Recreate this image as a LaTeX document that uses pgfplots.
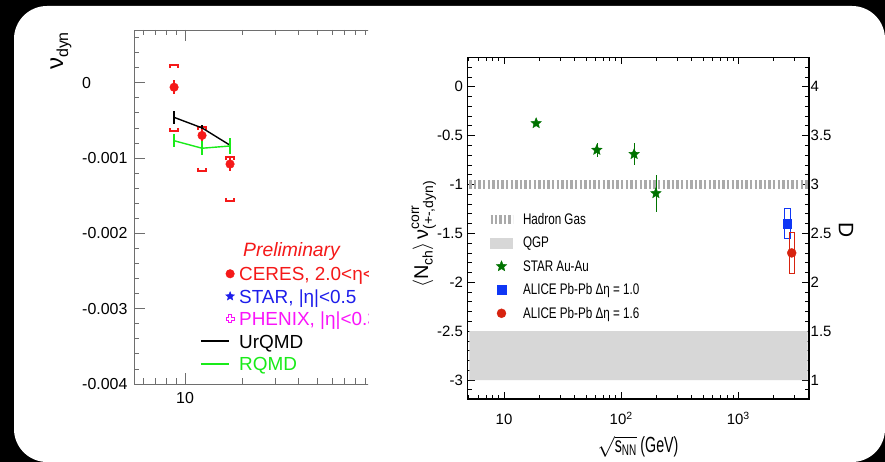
\documentclass[border=0pt]{standalone}
\usepackage{fontspec}
\setmainfont{Liberation Sans}
\newfontfamily\narrowfont[FakeStretch=0.76]{Liberation Sans}
\newfontfamily\labelfont[FakeStretch=0.65]{Liberation Sans}
\usepackage{amsmath}
\usepackage{graphicx}
\usepackage{pgfplots}
\pgfplotsset{compat=1.18}

\definecolor{ceresred}{RGB}{245,25,25}
\definecolor{starblue}{RGB}{30,30,235}
\definecolor{phenixmag}{RGB}{250,20,250}
\definecolor{rqmdgreen}{RGB}{25,235,25}
\definecolor{stargreen}{RGB}{0,115,0}
\definecolor{alblue}{RGB}{15,55,245}
\definecolor{alred}{RGB}{215,35,15}
\definecolor{hggray}{RGB}{170,170,170}
\definecolor{qgpgray}{RGB}{215,215,215}
\definecolor{framegray}{RGB}{110,110,110}

% filled five-pointed star
\pgfdeclareplotmark{fstar}{%
  \pgfpathmoveto{\pgfpoint{0pt}{\pgfplotmarksize}}%
  \pgfpathlineto{\pgfpoint{-0.265\pgfplotmarksize}{0.364\pgfplotmarksize}}%
  \pgfpathlineto{\pgfpoint{-0.951\pgfplotmarksize}{0.309\pgfplotmarksize}}%
  \pgfpathlineto{\pgfpoint{-0.428\pgfplotmarksize}{-0.139\pgfplotmarksize}}%
  \pgfpathlineto{\pgfpoint{-0.588\pgfplotmarksize}{-0.809\pgfplotmarksize}}%
  \pgfpathlineto{\pgfpoint{0pt}{-0.45\pgfplotmarksize}}%
  \pgfpathlineto{\pgfpoint{0.588\pgfplotmarksize}{-0.809\pgfplotmarksize}}%
  \pgfpathlineto{\pgfpoint{0.428\pgfplotmarksize}{-0.139\pgfplotmarksize}}%
  \pgfpathlineto{\pgfpoint{0.951\pgfplotmarksize}{0.309\pgfplotmarksize}}%
  \pgfpathlineto{\pgfpoint{0.265\pgfplotmarksize}{0.364\pgfplotmarksize}}%
  \pgfpathclose\pgfusepathqfillstroke}
% open cross
\pgfdeclareplotmark{ocross}{%
  \pgfpathmoveto{\pgfpoint{0.35\pgfplotmarksize}{\pgfplotmarksize}}%
  \pgfpathlineto{\pgfpoint{0.35\pgfplotmarksize}{0.35\pgfplotmarksize}}%
  \pgfpathlineto{\pgfpoint{\pgfplotmarksize}{0.35\pgfplotmarksize}}%
  \pgfpathlineto{\pgfpoint{\pgfplotmarksize}{-0.35\pgfplotmarksize}}%
  \pgfpathlineto{\pgfpoint{0.35\pgfplotmarksize}{-0.35\pgfplotmarksize}}%
  \pgfpathlineto{\pgfpoint{0.35\pgfplotmarksize}{-\pgfplotmarksize}}%
  \pgfpathlineto{\pgfpoint{-0.35\pgfplotmarksize}{-\pgfplotmarksize}}%
  \pgfpathlineto{\pgfpoint{-0.35\pgfplotmarksize}{-0.35\pgfplotmarksize}}%
  \pgfpathlineto{\pgfpoint{-\pgfplotmarksize}{-0.35\pgfplotmarksize}}%
  \pgfpathlineto{\pgfpoint{-\pgfplotmarksize}{0.35\pgfplotmarksize}}%
  \pgfpathlineto{\pgfpoint{-0.35\pgfplotmarksize}{0.35\pgfplotmarksize}}%
  \pgfpathlineto{\pgfpoint{-0.35\pgfplotmarksize}{\pgfplotmarksize}}%
  \pgfpathclose\pgfusepathqstroke}

\begin{document}
\begin{tikzpicture}[x=1bp,y=1bp]
\useasboundingbox (0,0) rectangle (885,462);
\fill[black] (0,0) rectangle (885,462);
\fill[white, rounded corners=33bp] (14,0) rectangle (885,456);

% ---------------- left panel: nu_dyn vs sqrt(s) ----------------
\begin{scope}
\clip (0,0) rectangle (368,462);
\begin{axis}[
  at={(134bp,78bp)}, anchor=south west,
  scale only axis, width=296bp, height=354bp,
  xmode=log, xmin=5.37, xmax=197.7,
  ymin=-0.004, ymax=0.0007,
  scaled y ticks=false,
  axis line style={framegray, line width=0.9bp},
  tick style={framegray, line width=0.8bp},
  major tick length=11bp, minor tick length=5.5bp,
  tick align=inside,
  xtick={10,100}, xticklabels={10,{}},
  minor xtick={6,7,8,9,20,30,40,50,60,70,80,90},
  ytick={-0.004,-0.003,-0.002,-0.001,0},
  yticklabels={-0.004,-0.003,-0.002,-0.001,0},
  minor ytick={-0.0038,-0.0036,-0.0034,-0.0032,-0.0028,-0.0026,-0.0024,-0.0022,-0.0018,-0.0016,-0.0014,-0.0012,-0.0008,-0.0006,-0.0004,-0.0002,0.0002,0.0004,0.0006},
  yticklabel style={anchor=west, xshift=-52bp, inner sep=0pt, font=\fontsize{16}{16}\selectfont},
  xticklabel style={anchor=base, yshift=-19.3bp, inner sep=0pt, font=\fontsize{16}{16}\selectfont},
  legend style={at={(0.223,0.341)}, anchor=north west, draw=none, fill=none,
    inner sep=0pt, outer sep=0pt, column sep=4.7bp, row sep=1.5bp,
    font=\fontsize{19}{19}\selectfont,
    nodes={inner sep=0pt, text height=17.5bp, text depth=3.5bp}},
  legend cell align=left,
]
% CERES systematic brackets
\addplot[ceresred, line width=1.6bp, forget plot] coordinates {(8.33,0.000198) (8.33,0.000238) (9.19,0.000238) (9.19,0.000198)};
\addplot[ceresred, line width=1.6bp, forget plot] coordinates {(8.33,-0.000605) (8.33,-0.000645) (9.19,-0.000645) (9.19,-0.000605)};
\addplot[ceresred, line width=1.6bp, forget plot] coordinates {(11.71,-0.00063) (11.71,-0.00059) (12.92,-0.00059) (12.92,-0.00063)};
\addplot[ceresred, line width=1.6bp, forget plot] coordinates {(11.71,-0.00113) (11.71,-0.00117) (12.92,-0.00117) (12.92,-0.00113)};
\addplot[ceresred, line width=1.6bp, forget plot] coordinates {(16.48,-0.00103) (16.48,-0.00099) (18.17,-0.00099) (18.17,-0.00103)};
\addplot[ceresred, line width=1.6bp, forget plot] coordinates {(16.48,-0.00153) (16.48,-0.00157) (18.17,-0.00157) (18.17,-0.00153)};
% UrQMD
\addplot[black, line width=1.4bp, forget plot,
  error bars/.cd, y dir=both, y explicit, error mark=none,
  error bar style={line width=1.4bp}]
  coordinates {(8.75,-0.00046) +- (0,0.00009) (12.3,-0.0006) +- (0,0.00004) (17.3,-0.00083) +- (0,0.00005)};
% RQMD
\addplot[rqmdgreen, line width=1.4bp, forget plot,
  error bars/.cd, y dir=both, y explicit, error mark=none,
  error bar style={line width=1.4bp}]
  coordinates {(8.75,-0.00077) +- (0,0.00009) (12.3,-0.00087) +- (0,0.00009) (17.3,-0.00084) +- (0,0.00011)};
% CERES
\addplot[only marks, mark=*, mark size=4.3bp, ceresred, forget plot,
  error bars/.cd, y dir=both, y explicit, error mark=none,
  error bar style={line width=1.2bp}]
  coordinates {(8.75,-0.00006) +- (0,0.00009) (12.3,-0.0007) +- (0,0.00008) (17.3,-0.00108) +- (0,0.00009)};

\addlegendimage{legend image code/.code={\path[draw=none,fill=none] (0bp,0bp) -- (28.3bp,0bp); \path[draw=ceresred,fill=ceresred] plot[mark=*,mark size=4.3bp] coordinates {(29.3bp,0bp)};}}
\addlegendentry{\textcolor{ceresred}{CERES, 2.0<η<2.9}}
\addlegendimage{legend image code/.code={\path[draw=none,fill=none] (0bp,0bp) -- (28.3bp,0bp); \path[draw=starblue,fill=starblue] plot[mark=fstar,mark size=4.6bp] coordinates {(29.3bp,0bp)};}}
\addlegendentry{\textcolor{starblue}{STAR, |η|<0.5}}
\addlegendimage{legend image code/.code={\path[draw=none,fill=none] (0bp,0bp) -- (28.3bp,0bp); \path[draw=phenixmag,line width=0.8bp] plot[mark=ocross,mark size=4bp] coordinates {(29.3bp,0bp)};}}
\addlegendentry{\textcolor{phenixmag}{PHENIX, |η|<0.35}}
\addlegendimage{legend image code/.code={\draw[black,line width=1.6bp] (0bp,0bp) -- (28.3bp,0bp);}}
\addlegendentry{UrQMD}
\addlegendimage{legend image code/.code={\draw[rqmdgreen,line width=1.6bp] (0bp,0bp) -- (28.3bp,0bp);}}
\addlegendentry{\textcolor{rqmdgreen}{RQMD}}
\end{axis}
\end{scope}

\node[anchor=base west, text=ceresred, inner sep=0pt] at (243bp,205.3bp) {\fontsize{19.4}{19.4}\selectfont\itshape Preliminary};

% ---------------- right panel: <Nch> nu(+-,dyn) and D ----------------
\begin{axis}[
  at={(467.7bp,63bp)}, anchor=south west,
  scale only axis, width=341.3bp, height=341.7bp,
  xmode=log, xmin=4.895, xmax=4018,
  ymin=-3.194, ymax=0.3007,
  axis line style={black, line width=1.2bp},
  tick style={black, line width=0.8bp},
  major tick length=7bp, minor tick length=4bp,
  tick align=inside,
  xtick={10,100,1000}, xticklabels={10,10\textsuperscript{2},10\textsuperscript{3}},
  minor xtick={5,6,7,8,9,20,30,40,50,60,70,80,90,200,300,400,500,600,700,800,900,2000,3000,4000},
  ytick={-3,-2.5,-2,-1.5,-1,-0.5,0},
  yticklabels={-3,-2.5,-2,-1.5,-1,-0.5,0},
  minor ytick={-3.1,-2.9,-2.8,-2.7,-2.6,-2.4,-2.3,-2.2,-2.1,-1.9,-1.8,-1.7,-1.6,-1.4,-1.3,-1.2,-1.1,-0.9,-0.8,-0.7,-0.6,-0.4,-0.3,-0.2,-0.1,0.1,0.2},
  yticklabel style={anchor=east, xshift=-4.7bp, inner sep=0pt, font=\fontsize{15}{15}\selectfont},
  xticklabel style={anchor=base, yshift=-26bp, inner sep=0pt, font=\fontsize{15}{15}\selectfont},
  legend style={at={(0.0536,0.5493)}, anchor=north west, draw=none, fill=none,
    inner sep=0pt, outer sep=0pt, column sep=6bp, row sep=7.5bp,
    font=\narrowfont\fontsize{15.4}{15.4}\selectfont,
    nodes={inner sep=0pt, text height=13bp, text depth=3bp}},
  legend cell align=left,
]
% QGP expectation band
\addplot[draw=none, fill=qgpgray, forget plot] coordinates {(5.05,-2.5) (3917,-2.5) (3917,-3) (5.05,-3) (5.05,-2.5)};
% Hadron gas expectation
\addplot[hggray, line width=8.5bp, dash pattern=on 2.4bp off 2.2bp, forget plot] coordinates {(5.05,-1) (3917,-1)};
% STAR Au-Au
\addplot[only marks, mark=fstar, mark size=5.5bp, stargreen, forget plot,
  error bars/.cd, y dir=both, y explicit, error mark=none,
  error bar style={stargreen, line width=0.6bp}]
  coordinates {(18.8,-0.374) +- (0,0.03) (62,-0.647) +- (0,0.07) (129,-0.69) +- (0,0.115) (198,-1.09) +- (0,0.19)};
% ALICE systematic boxes
\addplot[alblue, line width=1bp, forget plot] coordinates {(2472,-1.243) (2767,-1.243) (2767,-1.55) (2472,-1.55) (2472,-1.243)};
\addplot[alred, line width=1bp, forget plot] coordinates {(2729,-1.49) (3010,-1.49) (3010,-1.91) (2729,-1.91) (2729,-1.49)};
% ALICE points
\addplot[only marks, mark=square*, mark size=4.3bp, alblue, forget plot] coordinates {(2620,-1.40)};
\addplot[only marks, mark=*, mark size=4.5bp, alred, forget plot] coordinates {(2860,-1.70)};

\addlegendimage{legend image code/.code={\draw[hggray,line width=9bp,dash pattern=on 2.4bp off 2.0bp] (0bp,0bp) -- (22bp,0bp);}}
\addlegendentry{Hadron Gas}
\addlegendimage{legend image code/.code={\fill[qgpgray] (0bp,-5bp) rectangle (22bp,5bp);}}
\addlegendentry{QGP}
\addlegendimage{legend image code/.code={\path[draw=none,fill=none] (0bp,0bp) -- (22bp,0bp); \path[draw=stargreen,fill=stargreen] plot[mark=fstar,mark size=5.5bp] coordinates {(11bp,0bp)};}}
\addlegendentry{STAR Au-Au}
\addlegendimage{legend image code/.code={\path[draw=none,fill=none] (0bp,0bp) -- (22bp,0bp); \path[draw=alblue,fill=alblue] plot[mark=square*,mark size=4.3bp] coordinates {(11bp,0bp)};}}
\addlegendentry{ALICE Pb-Pb Δη = 1.0}
\addlegendimage{legend image code/.code={\path[draw=none,fill=none] (0bp,0bp) -- (22bp,0bp); \path[draw=alred,fill=alred] plot[mark=*,mark size=4.5bp] coordinates {(11bp,0bp)};}}
\addlegendentry{ALICE Pb-Pb Δη = 1.6}
\end{axis}

% right-hand D scale
\begin{axis}[
  at={(467.7bp,63bp)}, anchor=south west,
  scale only axis, width=341.3bp, height=341.7bp,
  xmin=0, xmax=1, ymin=0.806, ymax=4.3007,
  axis x line=none, axis y line*=right,
  axis line style={black, line width=1.2bp},
  major tick length=0pt, minor tick length=0pt,
  ytick={1,1.5,2,2.5,3,3.5,4},
  yticklabels={1,1.5,2,2.5,3,3.5,4},
  yticklabel style={anchor=west, xshift=1.5bp, inner sep=0pt, font=\fontsize{15}{15}\selectfont},
]
\end{axis}

% vertical axis titles: all three set in one rotated frame whose origin is the
% start of the <Nch> title's baseline; the nu_dyn and D titles are offset from it
\node[rotate=90, anchor=base west, inner sep=0pt] at (428bp,174bp) {\fontsize{20}{20}\selectfont
  \smash{\rlap{\hspace{218bp}\raisebox{365bp}{\fontsize{24}{24}\selectfont ν\raisebox{-5bp}{\fontsize{16}{16}\selectfont dyn}}}}%
  \smash{\rlap{\hspace{50.4bp}\raisebox{-425.3bp}{\rotatebox[origin=c]{180}{\fontsize{21}{21}\selectfont D}}}}%
  $\langle$N\raisebox{-4.5bp}{\fontsize{14}{14}\selectfont ch}$\rangle$\hspace{3bp}ν\rlap{\raisebox{9bp}{\fontsize{14}{14}\selectfont corr}}\raisebox{-5bp}{\fontsize{14}{14}\selectfont (+-,dyn)}};
\node[inner sep=0pt] at (638bp,15.5bp) {\labelfont\fontsize{22}{22}\selectfont $\sqrt{\text{s}_{\text{NN}}}$\,(GeV)};
\end{tikzpicture}
\end{document}
